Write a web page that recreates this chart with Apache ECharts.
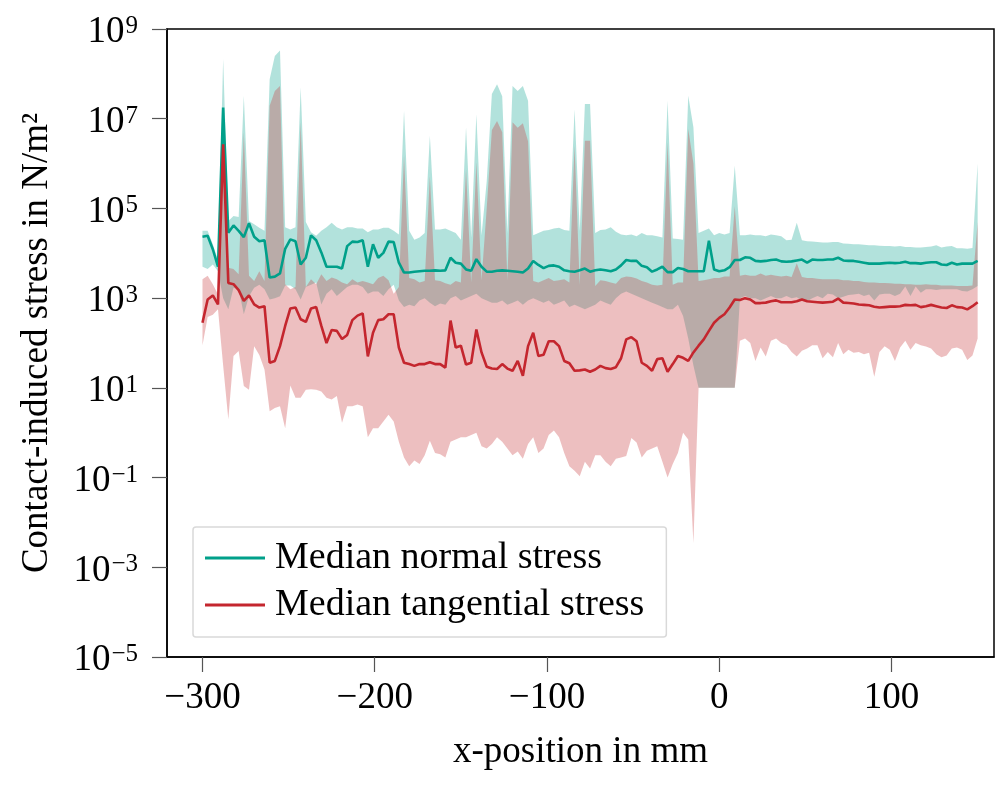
<!DOCTYPE html>
<html>
<head>
<meta charset="utf-8">
<title>Contact-induced stress</title>
<script src="https://cdn.jsdelivr.net/npm/echarts@6/dist/echarts.min.js"></script>
<style>
  html, body { margin: 0; padding: 0; background: #fff; }
  #chart { width: 996px; height: 788px; }
</style>
</head>
<body>
<div id="chart"></div>
<script>
// x-position of each sample in mm
const xPos = [
  -300,-297,-294,-291,-288,-285,-282,-279,-276,-273,
  -270,-267,-264,-261,-258,-255,-252,-249,-246,-243,
  -240,-237,-234,-231,-228,-225,-222,-219,-216,-213,
  -210,-207,-204,-201,-198,-195,-192,-189,-186,-183,
  -180,-177,-174,-171,-168,-165,-162,-159,-156,-153,
  -150,-147,-144,-141,-138,-135,-132,-129,-126,-123,
  -120,-117,-114,-111,-108,-105,-102,-99,-96,-93,
  -90,-87,-84,-81,-78,-75,-72,-69,-66,-63,
  -60,-57,-54,-51,-48,-45,-42,-39,-36,-33,
  -30,-27,-24,-21,-18,-15,-12,-9,-6,-3,
  0,3,6,9,12,15,18,21,24,27,
  30,33,36,39,42,45,48,51,54,57,
  60,63,66,69,72,75,78,81,84,87,
  90,93,96,99,102,105,108,111,114,117,
  120,123,126,129,132,135,138,141,144,147,
  150
];

// all stress values are stored as log10(N/m^2)
const normalMedian = [
  4.37,4.39,4.09,3.70,7.25,4.46,4.62,4.50,4.36,4.67,
  4.37,4.27,4.29,3.46,3.48,3.55,4.10,4.31,4.27,3.75,
  3.90,4.40,4.29,4.02,3.70,3.70,3.70,3.66,4.16,4.26,
  4.25,4.29,3.70,4.20,3.90,4.01,4.26,4.25,3.79,3.57,
  3.57,3.59,3.60,3.61,3.61,3.62,3.61,3.62,3.90,3.79,
  3.77,3.64,3.61,3.87,3.70,3.59,3.59,3.61,3.62,3.61,
  3.60,3.59,3.57,3.66,3.83,3.74,3.67,3.72,3.73,3.70,
  3.62,3.60,3.59,3.62,3.66,3.59,3.62,3.64,3.62,3.60,
  3.64,3.73,3.85,3.83,3.83,3.72,3.69,3.59,3.64,3.70,
  3.58,3.58,3.67,3.65,3.60,3.60,3.60,3.60,4.28,3.64,
  3.60,3.62,3.69,3.85,3.85,3.91,3.90,3.83,3.82,3.83,
  3.85,3.86,3.82,3.81,3.82,3.84,3.86,3.79,3.86,3.85,
  3.85,3.86,3.86,3.90,3.84,3.83,3.83,3.81,3.79,3.77,
  3.77,3.77,3.78,3.79,3.78,3.79,3.81,3.78,3.78,3.77,
  3.79,3.80,3.80,3.75,3.74,3.79,3.75,3.77,3.77,3.77,
  3.83
];
const normalUpper = [
  4.50,4.50,4.20,3.85,8.33,4.72,4.83,4.81,7.51,4.72,
  4.65,4.57,4.50,7.88,8.40,8.52,4.58,4.53,4.58,7.70,
  4.70,4.47,4.39,4.50,4.58,4.68,4.58,4.53,4.58,4.58,
  4.55,4.55,4.47,4.53,4.53,4.57,4.57,4.50,4.42,7.18,
  4.50,4.30,4.35,4.45,6.62,4.53,4.53,4.55,4.50,4.45,
  4.30,6.81,4.35,7.10,4.40,5.60,7.55,7.77,7.50,4.45,
  7.73,7.62,7.73,7.40,4.40,4.45,4.50,4.52,4.55,4.57,
  4.52,4.50,7.21,4.50,7.33,7.33,4.45,4.52,4.53,4.58,
  4.48,4.42,4.40,4.42,4.38,4.45,4.40,4.40,4.38,4.35,
  7.40,4.33,4.32,4.30,7.51,6.81,4.45,4.50,4.55,4.40,
  4.45,4.42,4.45,5.95,4.40,4.40,4.42,4.40,4.40,4.38,
  4.42,4.40,4.38,4.29,4.30,4.68,4.29,4.27,4.26,4.25,
  4.24,4.24,4.25,4.25,4.22,4.21,4.20,4.20,4.19,4.18,
  4.18,4.17,4.16,4.16,4.15,4.16,4.14,4.14,4.13,4.13,
  4.14,4.15,4.18,4.13,4.15,4.16,4.11,4.11,4.10,4.12,
  6.00
];
const normalLower = [
  3.70,3.65,3.75,3.60,3.00,2.75,3.23,3.20,2.64,3.04,
  3.23,3.30,3.20,2.97,3.00,3.04,3.28,3.28,3.20,2.97,
  3.25,3.30,3.35,2.86,3.10,3.20,3.05,3.15,3.25,3.30,
  3.30,3.25,3.10,3.15,3.15,3.05,3.20,3.30,2.95,2.80,
  2.85,2.82,2.95,3.00,2.90,2.82,2.88,2.85,3.00,3.05,
  2.95,3.00,3.05,3.10,3.00,2.95,2.90,2.90,2.95,2.85,
  2.90,2.95,2.85,2.95,3.00,2.95,2.90,2.95,2.85,2.90,
  2.95,2.80,2.85,2.80,2.75,2.80,2.85,2.95,2.90,2.85,
  3.00,3.10,3.15,3.10,3.05,3.00,2.95,2.90,2.85,2.80,
  2.75,2.75,2.85,2.60,2.10,1.50,1.00,1.00,1.00,1.00,
  1.00,1.00,1.00,1.00,3.00,3.05,3.00,3.00,2.95,3.00,
  3.05,3.00,3.00,3.05,3.00,3.02,2.95,2.93,3.00,3.05,
  3.00,3.10,3.08,3.00,3.03,3.07,3.08,3.10,3.05,3.08,
  2.95,3.08,3.10,3.10,3.05,3.10,3.26,3.05,3.26,3.12,
  3.20,3.20,3.18,3.20,3.20,3.20,3.20,3.16,3.15,3.20,
  3.27
];
const tangMedian = [
  2.45,2.97,3.06,2.86,6.43,3.34,3.31,3.18,2.94,3.06,
  2.86,2.79,2.82,1.56,1.60,1.93,2.38,2.77,2.79,2.53,
  2.47,2.77,2.80,2.38,2.00,2.29,2.27,2.09,2.18,2.51,
  2.61,2.66,1.70,2.23,2.51,2.53,2.64,2.64,1.90,1.56,
  1.53,1.49,1.53,1.53,1.57,1.53,1.53,1.45,2.50,1.90,
  1.94,1.52,1.56,2.30,1.79,1.47,1.43,1.42,1.53,1.43,
  1.38,1.60,1.27,1.93,2.23,1.71,1.74,2.04,2.04,1.93,
  1.60,1.55,1.38,1.39,1.41,1.36,1.41,1.49,1.44,1.42,
  1.46,1.66,2.08,2.13,2.04,1.56,1.49,1.38,1.64,1.66,
  1.36,1.53,1.71,1.67,1.60,1.79,1.94,2.08,2.27,2.45,
  2.56,2.64,2.79,2.97,2.96,3.00,2.97,2.89,2.89,2.90,
  2.93,2.95,2.91,2.91,2.91,2.93,2.97,2.93,2.92,2.91,
  2.90,2.91,2.92,2.99,2.90,2.89,2.88,2.86,2.85,2.84,
  2.81,2.79,2.80,2.81,2.81,2.82,2.85,2.84,2.85,2.80,
  2.82,2.85,2.82,2.79,2.78,2.84,2.80,2.79,2.75,2.82,
  2.91
];
const tangUpper = [
  3.42,3.50,3.31,3.08,6.60,3.68,3.65,3.53,6.70,3.50,
  3.38,3.60,3.38,7.29,7.62,7.73,3.31,3.20,3.25,6.92,
  3.25,3.42,3.31,3.53,3.38,3.46,3.42,3.35,3.31,3.42,
  3.35,3.38,3.35,3.31,3.45,3.50,3.40,3.10,3.25,6.17,
  3.45,3.42,3.35,3.38,5.72,3.40,3.38,3.33,3.30,3.38,
  3.35,5.87,3.35,6.03,3.40,5.00,6.75,6.95,6.70,3.40,
  6.92,6.80,6.90,6.50,3.38,3.35,3.40,3.45,3.38,3.40,
  3.42,3.35,6.40,3.30,6.51,6.51,3.27,3.40,3.38,3.35,
  3.32,3.45,3.48,3.47,3.44,3.38,3.35,3.30,3.28,3.30,
  6.47,3.30,3.35,3.35,6.77,6.00,3.38,3.40,3.42,3.45,
  3.45,3.48,3.48,5.05,3.50,3.52,3.50,3.50,3.55,3.50,
  3.52,3.50,3.48,3.50,3.47,3.78,3.47,3.45,3.45,3.43,
  3.42,3.42,3.42,3.42,3.40,3.40,3.38,3.38,3.36,3.35,
  3.35,3.34,3.34,3.33,3.32,3.32,3.31,3.31,3.30,3.30,
  3.31,3.30,3.30,3.28,3.28,3.28,3.27,3.27,3.27,3.28,
  4.70
];
const tangLower = [
  1.95,2.58,2.63,2.75,1.50,0.30,1.71,1.82,1.04,0.96,
  1.93,1.73,1.41,0.48,0.55,0.59,0.10,1.05,0.78,0.78,
  0.96,0.97,0.96,0.92,0.78,0.74,0.82,0.22,0.59,0.59,
  0.63,0.59,-0.10,0.10,0.10,0.25,0.40,0.25,-0.20,-0.55,
  -0.75,-0.62,-0.70,-0.50,-0.18,-0.45,-0.48,-0.55,-0.20,-0.15,
  -0.10,-0.10,-0.05,0.00,-0.30,-0.35,-0.25,-0.10,-0.20,-0.35,
  -0.50,-0.42,-0.58,-0.25,-0.10,-0.45,-0.35,-0.05,0.05,-0.10,
  -0.45,-0.75,-0.85,-0.97,-0.65,-0.80,-0.50,-0.50,-0.65,-0.75,
  -0.58,-0.55,-0.52,-0.12,-0.22,-0.55,-0.40,-0.35,-0.30,-0.65,
  -1.00,-0.70,-0.45,0.00,-0.15,-2.46,1.00,1.00,1.00,1.00,
  1.00,1.00,1.00,1.00,2.05,2.10,2.00,1.60,1.90,1.70,
  2.05,2.10,2.00,1.95,1.80,1.70,1.83,1.88,1.95,1.95,
  1.66,1.80,1.68,2.00,1.75,1.85,1.78,1.80,1.75,1.78,
  1.25,1.80,1.93,1.85,1.60,1.90,2.05,1.85,2.00,1.95,
  1.92,1.88,1.75,1.68,1.72,1.88,1.90,1.85,1.62,1.72,
  2.10
];

// tick positions (x in mm, y as decade exponent)
const xTicks = [-300, -200, -100, 0, 100];
const yTicks = [-5, -3, -1, 1, 3, 5, 7, 9];

const teal = '#00a08a';
const red = '#c4262e';
const font = 'Liberation Serif';

function minus(v) {
  return v < 0 ? '\u2212' + Math.abs(v) : String(v);
}

function pairs(ys) {
  return xPos.map((x, i) => [x, ys[i]]);
}

// filled band between lower and upper, drawn as one polygon through the axes
function band(upper, lower, fill, z) {
  return {
    type: 'custom',
    silent: true,
    z: z,
    data: xPos.map((x, i) => [x, lower[i], upper[i]]),
    encode: { x: 0, y: [1, 2] },
    renderItem: function (params, api) {
      if (params.dataIndex !== 0) return null;
      var top = [], bottom = [];
      for (var i = 0; i < xPos.length; i++) {
        top.push(api.coord([xPos[i], upper[i]]));
        bottom.unshift(api.coord([xPos[i], lower[i]]));
      }
      return {
        type: 'polygon',
        shape: { points: top.concat(bottom) },
        style: { fill: fill, stroke: null }
      };
    }
  };
}

const chart = echarts.init(document.getElementById('chart'));

chart.setOption({
  animation: false,
  backgroundColor: '#fff',
  textStyle: { fontFamily: font, color: '#000' },
  grid: {
    left: 167, right: 2, top: 29, bottom: 131,
    show: true, borderColor: '#000', borderWidth: 1.5
  },
  legend: {
    orient: 'vertical',
    left: 193,
    top: 527,
    icon: 'rect',
    itemWidth: 60,
    itemHeight: 3,
    itemGap: 7,
    padding: [11, 22, 12, 12],
    backgroundColor: '#fff',
    borderColor: '#d9d9d9',
    borderWidth: 1.5,
    borderRadius: 3,
    textStyle: { fontFamily: font, fontSize: 38, lineHeight: 40, color: '#000', padding: [0, 0, 0, 5] },
    data: ['Median normal stress', 'Median tangential stress']
  },
  xAxis: {
    type: 'value',
    min: -320.6,
    max: 159.5,
    name: 'x-position in mm',
    nameLocation: 'middle',
    nameGap: 77,
    nameTextStyle: { fontFamily: font, fontSize: 37, color: '#000' },
    axisLine: { show: true, onZero: false, lineStyle: { color: '#000', width: 1.5 } },
    axisTick: { show: true, customValues: xTicks, length: 15, lineStyle: { color: '#555', width: 1.2 } },
    axisLabel: {
      customValues: xTicks,
      margin: 23,
      fontFamily: font,
      fontSize: 37,
      lineHeight: 37,
      color: '#000',
      formatter: minus
    },
    splitLine: { show: false }
  },
  yAxis: {
    type: 'value',
    min: -5,
    max: 9,
    name: 'Contact-induced stress in N/m\u00b2',
    nameLocation: 'middle',
    nameGap: 111,
    nameRotate: 90,
    nameTextStyle: { fontFamily: font, fontSize: 37, color: '#000' },
    axisLine: { show: true, onZero: false, lineStyle: { color: '#000', width: 1.5 } },
    axisTick: { show: true, customValues: yTicks, length: 15, lineStyle: { color: '#555', width: 1.2 } },
    axisLabel: {
      customValues: yTicks,
      margin: 29,
      padding: [7, 0, 0, 0],
      formatter: function (v) {
        return '{b|10}{s|' + minus(v) + '}';
      },
      rich: {
        b: { fontFamily: font, fontSize: 37, lineHeight: 37, color: '#000' },
        s: { fontFamily: font, fontSize: 25, lineHeight: 25, color: '#000', verticalAlign: 'top', padding: [0, 0, 22, 1] }
      }
    },
    splitLine: { show: false }
  },
  series: [
    band(normalUpper, normalLower, 'rgba(0,160,138,0.30)', 1),
    band(tangUpper, tangLower, 'rgba(200,60,64,0.33)', 2),
    {
      name: 'Median normal stress',
      type: 'line',
      z: 3,
      data: pairs(normalMedian),
      symbol: 'none',
      itemStyle: { color: teal },
      lineStyle: { color: teal, width: 2.6 }
    },
    {
      name: 'Median tangential stress',
      type: 'line',
      z: 4,
      data: pairs(tangMedian),
      symbol: 'none',
      itemStyle: { color: red },
      lineStyle: { color: red, width: 2.6 }
    }
  ]
});
</script>
</body>
</html>
